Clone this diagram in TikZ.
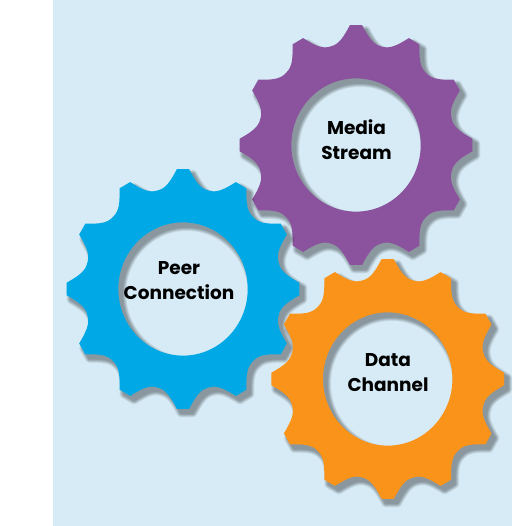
\documentclass[tikz,border=0pt]{standalone}
\usepackage{fontspec}
\setmainfont{Poppins}
\definecolor{skyback}{HTML}{D6EBF6}
\definecolor{gearpurple}{HTML}{8B529E}
\definecolor{gearblue}{HTML}{00A9E6}
\definecolor{gearorange}{HTML}{FA9319}
\newcommand{\gearoutline}{
  (-3:116.5)
  \foreach \a in {0,30,...,330} {
    -- (\a+3:116.5)
    .. controls (\a+7:105) and (\a+10:99) .. (\a+15:99)
    .. controls (\a+20:99) and (\a+23:105) .. (\a+27:116.5)
  } -- cycle
  (0,0) circle (64.7)
}
\newcommand{\gear}[3]{
  \begin{scope}[shift={(#1,#2)}, yscale=1.03]
    \foreach \w in {8,7,...,1} {
      \begin{scope}[transparency group, opacity=.05]
        \path[gearshadow, line width=\w pt, shift={(4,-4.5)}] \gearoutline;
      \end{scope}
    }
    \fill[even odd rule, #3] \gearoutline;
  \end{scope}
}
\tikzset{gearshadow/.style={draw=black, fill=black, even odd rule, line join=round}}
\begin{document}
\begin{tikzpicture}
      [x=1pt, y=1pt,
      every node/.style={align=center, font=\bfseries\fontsize{18.5}{25}\selectfont, text=black},
      ]
      \fill[white] (0,0) rectangle (512,526);
      \fill[skyback] (53,0) rectangle (512,526);
      \useasboundingbox (0,0) rectangle (512,526);
      % gears
      \gear{356}{381}{gearpurple}
      \gear{183}{237}{gearblue}
      \gear{387.7}{147}{gearorange}
      % labels
      \node (media) at (356.5,386) {Media\\Stream};
      \node (peer) at (179,245) {Peer\\Connection};
      \node (data) at (388,153) {Data\\Channel};
\end{tikzpicture}
\end{document}
